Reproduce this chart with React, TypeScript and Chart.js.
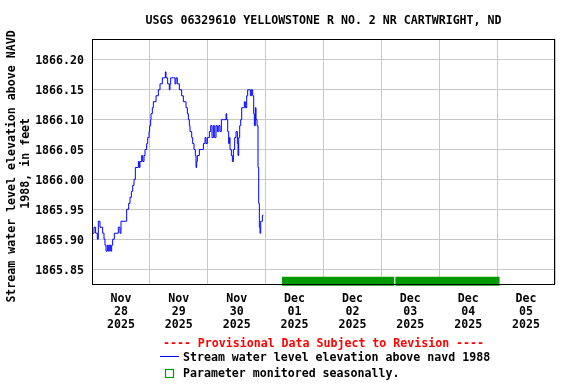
import React, { useEffect, useRef } from "react";
import { Chart, registerables } from "chart.js";

Chart.register(...registerables);

// ---------- data ----------
const TITLE = "USGS 06329610 YELLOWSTONE R NO. 2 NR CARTWRIGHT, ND";
const Y_TITLE_LINES = ["Stream water level elevation above NAVD", "1988, in feet"];
const PROVISIONAL = "---- Provisional Data Subject to Revision ----";
const SERIES_LABEL = "Stream water level elevation above navd 1988";
const SEASONAL_LABEL = "Parameter monitored seasonally.";

// x values are hours after 2025-11-28 00:00
const X_MIN_HOURS = 0;
const X_MAX_HOURS = 192;
const dayMonths = ["Nov", "Nov", "Nov", "Dec", "Dec", "Dec", "Dec", "Dec"];
const dayNumbers = ["28", "29", "30", "01", "02", "03", "04", "05"];
const dayYears = ["2025", "2025", "2025", "2025", "2025", "2025", "2025", "2025"];

const yTicks = [1865.85, 1865.9, 1865.95, 1866.0, 1866.05, 1866.1, 1866.15, 1866.2];
const Y_MIN = 1865.825;
const Y_MAX = 1866.235;

const hours = [
  0.0, 0.83, 1.5, 2.21, 2.63, 3.32, 4.42, 4.98, 5.39, 5.81, 6.36, 6.77, 7.19, 7.74, 8.16, 8.57,
  9.26, 10.92, 11.61, 12.03, 14.1, 14.38, 15.21, 15.76, 16.31, 16.87, 17.42, 17.97, 19.22, 19.6,
  19.91, 20.6, 21.01, 21.57, 21.98, 22.67, 23.09, 23.64, 23.92, 24.33, 24.47, 25.02, 25.44, 26.54,
  27.51, 28.2, 29.17, 30.42, 30.69, 31.38, 32.07, 32.35, 32.63, 33.73, 34.42, 34.84, 35.39, 36.22,
  37.19, 37.88, 38.99, 39.54, 39.96, 40.37, 40.65, 41.34, 41.75, 42.31, 42.86, 43.14, 43.41, 43.69,
  44.52, 46.18, 46.87, 47.28, 47.84, 48.67, 49.22, 49.77, 50.32, 50.88, 51.43, 51.98, 52.54, 53.09,
  53.64, 54.47, 55.16, 55.58, 55.86, 56.27, 56.68, 56.96, 57.24, 57.79, 58.2, 58.62, 59.17, 59.73,
  60.28, 60.56, 60.83, 61.25, 61.66, 62.08, 62.77, 63.18, 63.6, 64.15, 64.56, 65.26, 65.67, 66.09,
  66.64, 67.05, 67.33, 67.74, 68.02, 68.44, 68.85, 69.13, 69.4, 69.68, 69.96, 70.37, 70.65, 71.06,
];
const levels = [
  1865.91, 1865.92, 1865.91, 1865.9, 1865.93, 1865.92, 1865.91, 1865.9, 1865.89, 1865.88, 1865.89,
  1865.88, 1865.89, 1865.88, 1865.89, 1865.9, 1865.91, 1865.92, 1865.91, 1865.93, 1865.93, 1865.95,
  1865.96, 1865.97, 1865.98, 1865.99, 1866.0, 1866.02, 1866.03, 1866.02, 1866.03, 1866.04, 1866.03,
  1866.04, 1866.05, 1866.06, 1866.07, 1866.08, 1866.09, 1866.1, 1866.11, 1866.12, 1866.13, 1866.14,
  1866.15, 1866.16, 1866.17, 1866.18, 1866.17, 1866.16, 1866.15, 1866.16, 1866.17, 1866.17, 1866.16,
  1866.17, 1866.16, 1866.15, 1866.14, 1866.13, 1866.12, 1866.11, 1866.1, 1866.09, 1866.08, 1866.07,
  1866.06, 1866.05, 1866.04, 1866.02, 1866.03, 1866.04, 1866.05, 1866.06, 1866.07, 1866.06, 1866.07,
  1866.08, 1866.09, 1866.07, 1866.09, 1866.07, 1866.09, 1866.08, 1866.09, 1866.08, 1866.1, 1866.1,
  1866.1, 1866.11, 1866.1, 1866.08, 1866.06, 1866.07, 1866.05, 1866.04, 1866.03, 1866.05, 1866.07,
  1866.08, 1866.06, 1866.04, 1866.07, 1866.09, 1866.1, 1866.12, 1866.12, 1866.13, 1866.12, 1866.14,
  1866.15, 1866.15, 1866.14, 1866.15, 1866.14, 1866.11, 1866.09, 1866.12, 1866.1, 1866.09, 1866.02,
  1865.96, 1865.92, 1865.91, 1865.93, 1865.93, 1865.94, 1865.94,
];

// seasonal monitoring periods (hours after 2025-11-28 00:00)
const seasonalStarts = [78.8, 125.8];
const seasonalEnds = [125.3, 169.0];

// ---------- styles ----------
const FONT_FAMILY = '"DejaVu Sans Mono", "Liberation Mono", monospace';
const FONT_SIZE = 11.6;
const BLUE = "#0000ff";
const GREEN = "#009900";
const GRID = "#c8c8c8";

export default function App() {
  const ref = useRef<HTMLCanvasElement | null>(null);

  useEffect(() => {
    const canvas = ref.current;
    if (!canvas) return;

    const seriesData = hours.map((h, i) => ({ x: h, y: levels[i] }));
    const seasonalData: { x: number; y: number | null }[] = [];
    seasonalStarts.forEach((s, i) => {
      if (i > 0) seasonalData.push({ x: s, y: null });
      seasonalData.push({ x: s, y: 0.011 });
      seasonalData.push({ x: seasonalEnds[i], y: 0.011 });
    });

    const xTickValues: number[] = [];
    for (let h = X_MIN_HOURS; h <= X_MAX_HOURS; h += 12) xTickValues.push(h);

    const font = `bold ${FONT_SIZE}px ${FONT_FAMILY}`;

    const framePlugin = {
      id: "frame",
      afterDraw(chart: any) {
        const { ctx, chartArea } = chart;
        const { left, top, right, bottom } = chartArea;
        ctx.save();
        ctx.strokeStyle = "#000";
        ctx.lineWidth = 1;
        ctx.strokeRect(left + 0.5, top + 0.5, right - left - 1, bottom - top);
        ctx.restore();
      },
    };

    const textPlugin = {
      id: "texts",
      afterDraw(chart: any) {
        const { ctx, chartArea } = chart;
        const cx = (chartArea.left + chartArea.right) / 2;
        ctx.save();
        ctx.font = font;
        ctx.textBaseline = "middle";
        ctx.textAlign = "center";
        ctx.fillStyle = "#000";
        ctx.fillText(TITLE, cx, 21);

        // y axis title
        ctx.save();
        ctx.translate(12, 166.5);
        ctx.rotate(-Math.PI / 2);
        ctx.fillText(Y_TITLE_LINES[0], 0, 0);
        ctx.restore();
        ctx.save();
        ctx.translate(25.5, 163.3);
        ctx.rotate(-Math.PI / 2);
        ctx.fillText(Y_TITLE_LINES[1], 0, 0);
        ctx.restore();

        // legend
        ctx.fillStyle = "#ff0000";
        ctx.fillText(PROVISIONAL, cx, 344);

        ctx.strokeStyle = BLUE;
        ctx.lineWidth = 1;
        ctx.beginPath();
        ctx.moveTo(160, 356.5);
        ctx.lineTo(179, 356.5);
        ctx.stroke();
        ctx.textAlign = "left";
        ctx.fillStyle = "#000";
        ctx.fillText(chart.data.datasets[0].label, 183, 357.5);

        ctx.strokeStyle = GREEN;
        ctx.lineWidth = 1.2;
        ctx.strokeRect(165.5, 369.5, 8, 8);
        ctx.fillText(chart.data.datasets[1].label, 183, 373.5);
        ctx.restore();
      },
    };

    const chart = new Chart(canvas, {
      type: "line",
      data: {
        datasets: [
          {
            label: SERIES_LABEL,
            data: seriesData,
            borderColor: BLUE,
            borderWidth: 1,
            pointRadius: 0,
            stepped: true,
            fill: false,
            xAxisID: "x",
            yAxisID: "y",
          },
          {
            label: SEASONAL_LABEL,
            data: seasonalData,
            borderColor: GREEN,
            borderWidth: 9,
            borderCapStyle: "butt",
            pointRadius: 0,
            spanGaps: false,
            fill: false,
            clip: false,
            xAxisID: "x",
            yAxisID: "yBar",
          },
        ],
      } as any,
      options: {
        animation: false,
        responsive: false,
        events: [],
        layout: { padding: { top: 39, right: 21, left: 0, bottom: 0 } },
        plugins: {
          legend: { display: false },
          tooltip: { enabled: false },
          title: { display: false },
        },
        scales: {
          x: {
            type: "linear",
            min: X_MIN_HOURS,
            max: X_MAX_HOURS,
            afterBuildTicks: (scale: any) => {
              scale.ticks = xTickValues.map((v) => ({ value: v }));
            },
            afterFit: (scale: any) => {
              scale.height = 100;
            },
            grid: {
              color: (c: any) =>
                c.tick && c.tick.value % 24 === 0 ? GRID : "rgba(0,0,0,0)",
              drawTicks: false,
              lineWidth: 1,
            },
            border: { display: false },
            ticks: {
              autoSkip: false,
              maxRotation: 0,
              minRotation: 0,
              padding: 9,
              color: "#000",
              font: { family: FONT_FAMILY, size: FONT_SIZE, weight: "bold", lineHeight: 1.11 },
              callback: (value: any) => {
                const v = Number(value);
                if ((v - 12) % 24 !== 0) return "";
                const d = (v - 12) / 24;
                return [dayMonths[d], dayNumbers[d], dayYears[d]];
              },
            },
          },
          y: {
            type: "linear",
            min: Y_MIN,
            max: Y_MAX,
            afterBuildTicks: (scale: any) => {
              scale.ticks = yTicks.map((v) => ({ value: v }));
            },
            afterFit: (scale: any) => {
              scale.width = 92;
            },
            grid: { color: GRID, drawTicks: false, lineWidth: 1 },
            border: { display: false },
            ticks: {
              padding: 8,
              labelOffset: 1.5,
              color: "#000",
              font: { family: FONT_FAMILY, size: FONT_SIZE, weight: "bold" },
              callback: (value: any) => Number(value).toFixed(2),
            },
          },
          yBar: {
            type: "linear",
            display: false,
            min: 0,
            max: 1,
          },
        },
      } as any,
      plugins: [framePlugin, textPlugin],
    });

    return () => chart.destroy();
  }, []);

  return (
    <div style={{ position: "fixed", left: 0, top: 0, width: 576, height: 384, background: "#fff" }}>
      <canvas ref={ref} width={576} height={384} style={{ display: "block" }} />
    </div>
  );
}
